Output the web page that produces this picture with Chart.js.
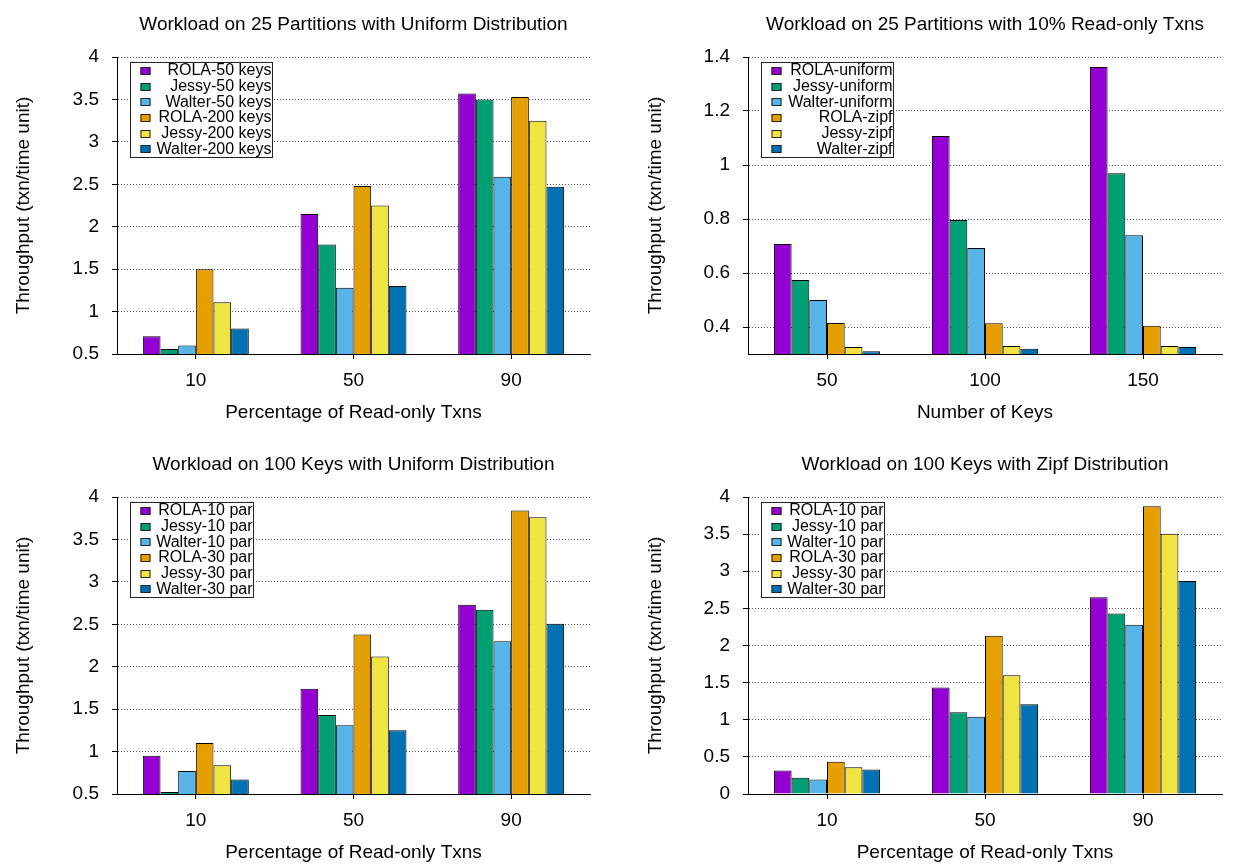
<!DOCTYPE html>
<html>
<head>
<meta charset="utf-8">
<title>Throughput charts</title>
<script src="https://cdn.jsdelivr.net/npm/chart.js@4.4.1/dist/chart.umd.min.js"></script>
<style>
  html, body { margin: 0; padding: 0; background: #fff; overflow: hidden; }
  .panel { position: absolute; }
  #p1 { left: 0; top: 0; width: 617px; height: 432px; }
  #p2 { left: 617px; top: 0; width: 618px; height: 432px; }
  #p3 { left: 0; top: 440px; width: 617px; height: 432px; }
  #p4 { left: 617px; top: 440px; width: 618px; height: 432px; }
</style>
</head>
<body>
<div class="panel" id="p1"><canvas id="c1"></canvas></div>
<div class="panel" id="p2"><canvas id="c2"></canvas></div>
<div class="panel" id="p3"><canvas id="c3"></canvas></div>
<div class="panel" id="p4"><canvas id="c4"></canvas></div>
<script>
// categories
const readOnlyPct = ['10', '50', '90'];
const keyCounts = ['50', '100', '150'];

// 25 partitions, uniform distribution
const keysLabels = ['ROLA-50 keys', 'Jessy-50 keys', 'Walter-50 keys', 'ROLA-200 keys', 'Jessy-200 keys', 'Walter-200 keys'];
const rola50 = [0.71, 2.15, 3.57];
const jessy50 = [0.56, 1.79, 3.50];
const walter50 = [0.60, 1.28, 2.59];
const rola200 = [1.50, 2.48, 3.53];
const jessy200 = [1.11, 2.25, 3.25];
const walter200 = [0.80, 1.30, 2.47];
const partTicks = [0.5, 1, 1.5, 2, 2.5, 3, 3.5, 4];

// 25 partitions, 10% read-only
const distLabels = ['ROLA-uniform', 'Jessy-uniform', 'Walter-uniform', 'ROLA-zipf', 'Jessy-zipf', 'Walter-zipf'];
const rolaUniform = [0.707, 1.107, 1.363];
const jessyUniform = [0.574, 0.796, 0.969];
const walterUniform = [0.500, 0.693, 0.740];
const rolaZipf = [0.415, 0.414, 0.405];
const jessyZipf = [0.326, 0.330, 0.330];
const walterZipf = [0.310, 0.319, 0.326];
const distTicks = [0.4, 0.6, 0.8, 1, 1.2, 1.4];

// 100 keys, uniform / zipf
const parLabels = ['ROLA-10 par', 'Jessy-10 par', 'Walter-10 par', 'ROLA-30 par', 'Jessy-30 par', 'Walter-30 par'];
const rola10Uni = [0.95, 1.74, 2.73];
const jessy10Uni = [0.525, 1.43, 2.67];
const walter10Uni = [0.77, 1.31, 2.30];
const rola30Uni = [1.10, 2.38, 3.84];
const jessy30Uni = [0.84, 2.12, 3.76];
const walter30Uni = [0.67, 1.25, 2.505];
const uniTicks = [0.5, 1, 1.5, 2, 2.5, 3, 3.5, 4];

const rola10Zipf = [0.315, 1.435, 2.65];
const jessy10Zipf = [0.22, 1.10, 2.43];
const walter10Zipf = [0.195, 1.04, 2.28];
const rola30Zipf = [0.435, 2.13, 3.875];
const jessy30Zipf = [0.36, 1.60, 3.505];
const walter30Zipf = [0.33, 1.21, 2.87];
const zipfTicks = [0, 0.5, 1, 1.5, 2, 2.5, 3, 3.5, 4];

const barColors = ['#9400d3', '#009e73', '#56b4e9', '#e69f00', '#f0e442', '#0072b2'];
const FONT = "'Liberation Sans', Arial, Helvetica, sans-serif";
const TXT = 19;

Chart.defaults.font.family = FONT;
Chart.defaults.color = '#000';

// legend in a white box with the sample on the left and right-aligned text
const boxLegend = {
  id: 'boxLegend',
  afterDraw(chart, args, opts) {
    const { ctx, chartArea } = chart;
    const sets = chart.data.datasets;
    const rowH = 15.7;
    const x = Math.round(chartArea.left + 13) + 0.5;
    const y = Math.round(chartArea.top + 5) + 0.5;
    const w = opts.width;
    const h = Math.round(rowH * sets.length + 1);
    ctx.save();
    ctx.fillStyle = '#fff';
    ctx.fillRect(x, y, w, h);
    ctx.strokeStyle = '#222';
    ctx.lineWidth = 1;
    ctx.strokeRect(x, y, w, h);
    ctx.font = '16px ' + FONT;
    ctx.textAlign = 'right';
    ctx.textBaseline = 'middle';
    sets.forEach((ds, i) => {
      const cy = y + rowH / 2 + i * rowH + 0.5;
      ctx.fillStyle = ds.backgroundColor;
      ctx.fillRect(x + 10, Math.round(cy - 4), 10, 8);
      ctx.strokeStyle = '#222';
      ctx.strokeRect(x + 10 + 0.5, Math.round(cy - 4) + 0.5, 9, 7);
      ctx.fillStyle = '#000';
      ctx.fillText(ds.label, x + w - 1, cy);
    });
    ctx.restore();
  }
};

function buildChart(id, o) {
  const datasets = o.series.map((vals, i) => ({
    label: o.labels[i],
    data: vals,
    backgroundColor: barColors[i],
    borderColor: '#000',
    borderWidth: 1,
    categoryPercentage: 0.672,
    barPercentage: 1.0
  }));
  return new Chart(document.getElementById(id), {
    type: 'bar',
    data: { labels: o.categories, datasets: datasets },
    plugins: [boxLegend],
    options: {
      responsive: true,
      maintainAspectRatio: false,
      animation: false,
      layout: { padding: { left: 0, right: o.padRight, top: 0, bottom: 0 } },
      plugins: {
        legend: { display: false },
        tooltip: { enabled: false },
        title: {
          display: true,
          text: o.title,
          fullSize: false,
          color: '#000',
          font: { size: TXT, weight: 'normal' },
          padding: { top: 13.6, bottom: 20.6 }
        },
        boxLegend: { width: o.legendWidth }
      },
      scales: {
        x: {
          offset: true,
          grid: { display: true, drawOnChartArea: false, offset: false, tickLength: 5, tickColor: '#000' },
          border: { color: '#000', width: 1 },
          ticks: { padding: 10, font: { size: TXT }, color: '#000' },
          title: { display: true, text: o.xTitle, font: { size: TXT }, color: '#000', padding: { top: 0, bottom: 8 } },
          afterFit: s => { s.height = 78; }
        },
        y: {
          min: o.yMin,
          max: o.yMax,
          grid: { color: '#555', lineWidth: 1, tickLength: 5, tickColor: '#000' },
          border: { color: '#000', width: 1, dash: [1, 2] },
          ticks: { padding: 13, font: { size: TXT }, color: '#000', callback: v => String(v) },
          afterBuildTicks: s => { s.ticks = o.yTicks.map(v => ({ value: v })); },
          title: { display: true, text: 'Throughput (txn/time unit)', font: { size: TXT }, color: '#000', padding: { top: o.yTitlePad, bottom: 0 } },
          afterFit: s => { s.width = o.yWidth; }
        }
      }
    }
  });
}

buildChart('c1', {
  title: 'Workload on 25 Partitions with Uniform Distribution',
  xTitle: 'Percentage of Read-only Txns',
  categories: readOnlyPct,
  labels: keysLabels,
  series: [rola50, jessy50, walter50, rola200, jessy200, walter200],
  yMin: 0.5, yMax: 4, yTicks: partTicks,
  yWidth: 117, yTitlePad: 12, padRight: 27, legendWidth: 142
});

buildChart('c2', {
  title: 'Workload on 25 Partitions with 10% Read-only Txns',
  xTitle: 'Number of Keys',
  categories: keyCounts,
  labels: distLabels,
  series: [rolaUniform, jessyUniform, walterUniform, rolaZipf, jessyZipf, walterZipf],
  yMin: 0.3, yMax: 1.4, yTicks: distTicks,
  yWidth: 131, yTitlePad: 27, padRight: 13, legendWidth: 132
});

buildChart('c3', {
  title: 'Workload on 100 Keys with Uniform Distribution',
  xTitle: 'Percentage of Read-only Txns',
  categories: readOnlyPct,
  labels: parLabels,
  series: [rola10Uni, jessy10Uni, walter10Uni, rola30Uni, jessy30Uni, walter30Uni],
  yMin: 0.5, yMax: 4, yTicks: uniTicks,
  yWidth: 117, yTitlePad: 12, padRight: 27, legendWidth: 123
});

buildChart('c4', {
  title: 'Workload on 100 Keys with Zipf Distribution',
  xTitle: 'Percentage of Read-only Txns',
  categories: readOnlyPct,
  labels: parLabels,
  series: [rola10Zipf, jessy10Zipf, walter10Zipf, rola30Zipf, jessy30Zipf, walter30Zipf],
  yMin: 0, yMax: 4, yTicks: zipfTicks,
  yWidth: 131, yTitlePad: 27, padRight: 13, legendWidth: 123
});
</script>
</body>
</html>
